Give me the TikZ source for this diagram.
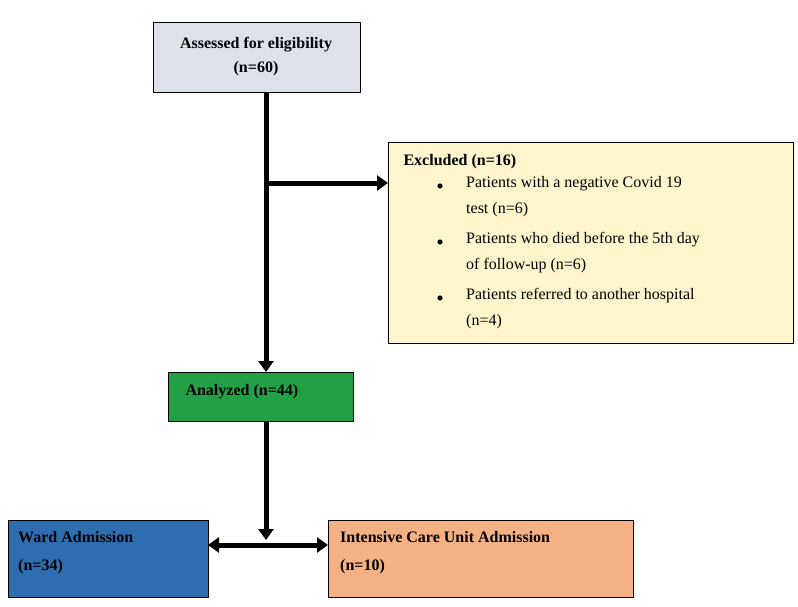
\documentclass[tikz,border=0pt]{standalone}
\usepackage{fontspec}
\setmainfont{Liberation Serif}
\usetikzlibrary{arrows.meta}
\begin{document}
\begin{tikzpicture}[x=1pt,y=-1pt,
  box/.style={draw=black,line width=0.8pt,inner sep=0pt},
  conn/.style={line width=5pt,-{Triangle[length=11pt,width=15pt]}},
  lbl/.style={font=\fontsize{16}{20}\selectfont\bfseries,text=black}]
\useasboundingbox (0,0) rectangle (798,607);
\definecolor{topc}{HTML}{DDE1EA}
\definecolor{exc}{HTML}{FFF5CC}
\definecolor{grn}{HTML}{22A045}
\definecolor{blu}{HTML}{2E6DB0}
\definecolor{sal}{HTML}{F4B183}
\fill[topc] (153,22) rectangle (360,92); \draw[box] (153,22) rectangle (360,92);
\node[lbl,align=center] (top) at (256,57) {Assessed for eligibility\\[4pt](n=60)};
\coordinate (topb) at (266,92);
\fill[exc] (388,142) rectangle (793,343); \draw[box] (388,142) rectangle (793,343);
\coordinate (excl) at (388,183);
\node[lbl,anchor=base west] (exh) at (400,165) {Excluded (n=16)};
\begin{scope}[every node/.style={font=\fontsize{16}{26}\selectfont,anchor=north west,align=left,inner sep=0pt}]
\node (b1) at (466,176) {Patients with a negative Covid 19\\test (n=6)};
\node (b2) at (466,232) {Patients who died before the 5th day\\of follow-up (n=6)};
\node (b3) at (466,288) {Patients referred to another hospital\\(n=4)};
\end{scope}
\foreach \y in {186,242,298} \fill (440,\y) circle (2.6pt);
\fill[grn] (168,372) rectangle (353,421); \draw[box] (168,372) rectangle (353,421);
\node[lbl,anchor=west] (ana) at (182,392) {Analyzed (n=44)};
\coordinate (anat) at (266,372);
\coordinate (anab) at (266,421);
\coordinate (br) at (266,183);
\fill[blu] (8,520) rectangle (208,597); \draw[box] (8,520) rectangle (208,597);
\node[lbl,anchor=north west,align=left,inner sep=0pt] (ward) at (18,531) {Ward Admission\\[8pt](n=34)};
\fill[sal] (328,520) rectangle (633,597); \draw[box] (328,520) rectangle (633,597);
\node[lbl,anchor=north west,align=left,inner sep=0pt] (icu) at (340,531) {Intensive Care Unit Admission\\[8pt](n=10)};
\coordinate (wr) at (208,545);
\coordinate (il) at (328,545);
\draw[conn] (topb) -- (anat);
\draw[conn] (br) -- (excl);
\draw[conn] (anab) -- (266,540);
\draw[line width=5pt,{Triangle[length=11pt,width=15pt]}-{Triangle[length=11pt,width=15pt]}] (wr) -- (il);
\end{tikzpicture}
\end{document}
